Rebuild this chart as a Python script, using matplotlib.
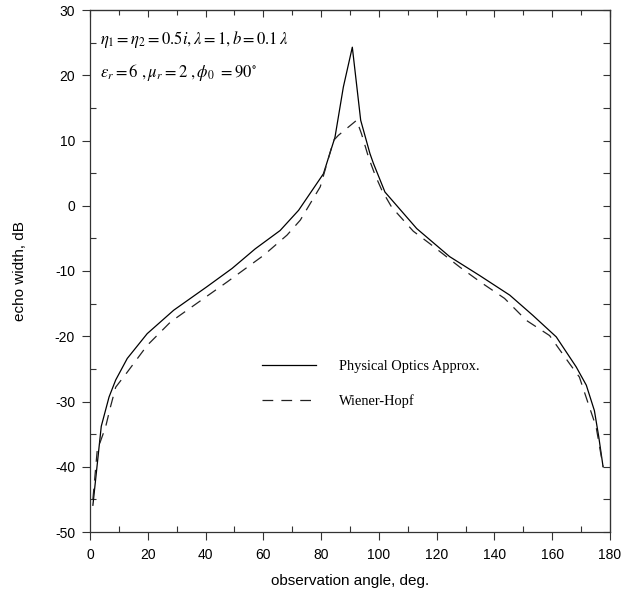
import matplotlib
matplotlib.use("Agg")
import matplotlib.pyplot as plt
from matplotlib.lines import Line2D

# observation angle (deg) and echo width (dB)
PO_ANGLE = [1, 3.9, 6.6, 8.9, 12.9, 19.8, 29, 40.5, 49.2, 57.2, 65.8, 72.2,
            80.8, 84.8, 87.7, 90.8, 93.7, 96.9, 98.1, 102.1, 113.1, 124.5,
            134.9, 145.3, 153.3, 161.4, 168.3, 171.8, 174.6, 176.1, 177.6]
PO_ECHO = [-45.9, -33.8, -29.3, -26.7, -23.4, -19.6, -16.0, -12.4, -9.6, -6.6,
           -3.8, -0.7, 4.9, 10.5, 18.2, 24.3, 13.1, 8.0, 6.5, 2.1, -3.5, -7.8,
           -10.7, -13.7, -16.8, -20.1, -24.7, -27.5, -31.4, -35.4, -40.0]

WH_ANGLE = [1, 2.5, 5.4, 7.1, 8.9, 12.9, 19.8, 27.9, 39.4, 47.4, 60.1, 68.2,
            72.8, 79.7, 84.3, 86, 92.3, 94, 96.5, 98.7, 101, 104.4, 111.9,
            117.6, 128, 135.5, 143.5, 151, 159.1, 166, 169.4, 172.3, 175.2,
            177.6]
WH_ECHO = [-45.0, -37.5, -33.9, -30.8, -27.8, -25.5, -21.4, -17.8, -14.2,
           -11.7, -7.6, -4.5, -2.2, 2.9, 10.0, 10.8, 13.1, 11.0, 7.3, 4.7, 2.4,
           -0.2, -3.9, -5.8, -9.4, -11.8, -14.2, -17.55, -19.9, -24.2, -26.25,
           -30.1, -33.9, -40.0]

X_MAJOR = list(range(0, 181, 20))
X_MINOR = list(range(10, 181, 20))
Y_MAJOR = list(range(-50, 31, 10))
Y_MINOR = list(range(-45, 30, 10))

plt.rcParams["mathtext.fontset"] = "stix"

fig = plt.figure(figsize=(6.35, 5.92), dpi=100)
ax = fig.add_axes([90 / 635, 60 / 592, 520 / 635, 522 / 592])

ax.plot(PO_ANGLE, PO_ECHO, color="black", linewidth=0.9,
        label="Physical Optics Approx.")
ax.plot(WH_ANGLE, WH_ECHO, color="#222222", linewidth=0.9,
        dashes=(8.6, 6.5), label="Wiener-Hopf")

ax.set_xlim(0, 180)
ax.set_ylim(-50, 30)
ax.set_xticks(X_MAJOR)
ax.set_xticks(X_MINOR, minor=True)
ax.set_yticks(Y_MAJOR)
ax.set_yticks(Y_MINOR, minor=True)

tick_font = {"family": "Liberation Sans", "size": 10}
ax.set_xticklabels([str(v) for v in X_MAJOR], fontdict=tick_font)
ax.set_yticklabels([str(v) for v in Y_MAJOR], fontdict=tick_font)
ax.tick_params(which="major", direction="out", length=5.8, width=0.8,
               color="#333333", top=False, right=False)
ax.tick_params(axis="x", which="major", pad=6)
ax.tick_params(axis="y", which="major", pad=5)
ax.tick_params(which="minor", direction="in", length=4.5, width=0.8,
               color="#333333", top=False, right=False)

for spine in ax.spines.values():
    spine.set_linewidth(0.9)
    spine.set_color("#333333")

sec_x = ax.secondary_xaxis("top")
sec_x.set_xticks(X_MAJOR)
sec_x.set_xticks(X_MINOR, minor=True)
sec_x.tick_params(which="major", direction="in", length=5, width=0.8,
                  color="#333333", labeltop=False)
sec_x.tick_params(which="minor", direction="in", length=3.6, width=0.8,
                  color="#333333")

sec_y = ax.secondary_yaxis("right")
sec_y.set_yticks(list(range(-50, 31, 5)))
sec_y.tick_params(direction="in", length=5, width=0.8, color="#333333",
                  labelright=False)

ax.set_xlabel("observation angle, deg.", family="Liberation Sans",
              fontsize=11, labelpad=8)
ax.set_ylabel("echo width, dB", family="Liberation Sans", fontsize=11,
              labelpad=20)

ax.text(0.019, 0.943, r"$\eta_1 = \eta_2 = 0.5i, \lambda = 1, b = 0.1\,\lambda$",
        transform=ax.transAxes, fontsize=12, ha="left", va="center")
ax.text(0.019, 0.880,
        r"$\varepsilon_r = 6\ , \mu_r = 2\ , \phi_0\ = 90^{\circ}$",
        transform=ax.transAxes, fontsize=12, ha="left", va="center")

handles = [
    Line2D([0], [0], color="black", linewidth=0.9),
    Line2D([0], [0], color="#222222", linewidth=0.9, dashes=(8.6, 6.5)),
]
ax.legend(handles, ["Physical Optics Approx.", "Wiener-Hopf"],
          loc="center left", bbox_to_anchor=(0.331, 0.2835), frameon=False,
          borderpad=0, borderaxespad=0, handlelength=3.7, handletextpad=1.65,
          labelspacing=1.45, prop={"family": "Liberation Serif", "size": 10.4})

fig.savefig("out.png", dpi=100)
